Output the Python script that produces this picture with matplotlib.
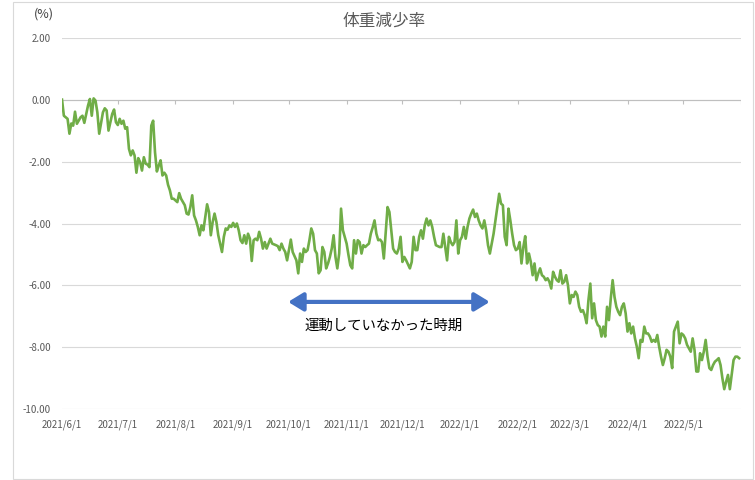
import numpy as np
import pandas as pd
import matplotlib
matplotlib.use("Agg")
import matplotlib.pyplot as plt
import matplotlib.patches as mpatches
import matplotlib.dates as mdates

plt.rcParams['font.family'] = ['Noto Sans CJK JP', 'DejaVu Sans']

# 日数 (2021/6/1 からの経過日) と体重減少率 (%)
start = pd.Timestamp("2021-06-01")
days = [
    0, 1, 3, 4, 5, 6, 7, 8, 10, 11, 12, 14, 15, 16, 17, 18, 19, 20, 22, 23,
    24, 25, 27, 28, 29, 30, 31, 32, 33, 34, 35, 36, 37, 38, 39, 40, 41, 42, 43, 44,
    45, 46, 47, 48, 49, 50, 51, 52, 53, 54, 55, 56, 57, 58, 59,
    60, 62, 63, 64, 66, 67, 68, 69, 70, 71, 72, 73, 74, 75, 76, 78, 79, 80, 81, 82,
    83, 84, 85, 86, 87, 88, 89, 90, 91, 92, 93, 94, 95, 96, 97, 98, 99, 100, 101, 102,
    103, 104, 105, 106, 107, 108, 109, 110, 111, 112, 113, 115, 116, 117, 118, 119, 120, 121, 122,
    123, 124, 126, 127, 128, 129, 130, 131, 132, 133, 134, 135, 136, 137, 138, 139, 140, 141, 142, 143,
    144, 145, 146, 147, 148, 149, 150, 151, 152, 153, 154, 155, 156, 157, 158, 159, 160, 161, 162, 163,
    164, 165, 166, 167, 168, 169, 170, 171, 172, 173, 175, 176, 177, 178, 179, 180, 181, 182, 183, 184,
    185, 187, 188, 189, 190, 191, 192, 193, 194, 195, 196, 197, 198, 199, 200, 201, 203, 204, 205, 206,
    207, 208, 209, 210, 211, 212, 213, 214, 215, 216, 217, 218, 219, 220, 221, 222, 223, 224, 225, 226,
    227, 228, 229, 230, 231, 232, 233, 234, 235, 236, 237, 238, 239, 240, 241, 242, 243, 244, 245, 246,
    247, 248, 249, 250, 251, 252, 253, 254, 255, 256, 257, 258, 259, 260, 261, 262, 263, 264, 265, 266,
    267, 268, 269, 270, 271, 272, 273, 274, 275, 276, 277, 278, 279, 280, 281, 282, 283, 284, 285, 286,
    287, 288, 289, 290, 291, 292, 293, 294, 295, 296, 297, 298, 299, 300, 301, 302, 303, 304, 305, 306,
    307, 308, 309, 310, 311, 312, 313, 314, 315, 316, 317, 318, 319, 320, 321, 322, 323, 324, 325, 326,
    327, 328, 329, 330, 331, 332, 333, 334, 335, 336, 338, 339, 340, 341, 342, 343, 344, 345, 346, 347,
    348, 349, 350, 351, 352, 353, 354, 355, 356, 357, 358, 359, 360, 361, 362, 363, 364,
]
rate = [
    0.0, -0.52, -0.62, -1.1, -0.77, -0.84, -0.39, -0.78, -0.57, -0.52, -0.75, -0.19, 0.02, -0.52, 0.04, -0.03, -0.41, -1.1, -0.41, -0.28,
    -0.35, -1.0, -0.46, -0.32, -0.73, -0.82, -0.62, -0.78, -0.68, -0.94, -0.89, -1.59, -1.8, -1.64, -1.8, -2.36, -1.89, -2.02, -2.29, -1.86,
    -2.07, -2.1, -2.18, -0.84, -0.68, -1.7, -2.32, -2.13, -1.96, -2.45, -2.36, -2.45, -2.75, -2.93, -3.2,
    -3.2, -3.31, -3.02, -3.2, -3.41, -3.68, -3.71, -3.47, -3.09, -3.74, -3.9, -4.11, -4.38, -4.06, -4.22, -3.38, -3.63, -4.38, -3.95, -3.68,
    -3.95, -4.38, -4.65, -4.92, -4.43, -4.16, -4.2, -4.06, -4.11, -3.98, -4.11, -4.0, -4.22, -4.54, -4.63, -4.38, -4.65, -4.33, -4.49, -5.21,
    -4.54, -4.49, -4.54, -4.27, -4.49, -4.81, -4.6, -4.81, -4.65, -4.49, -4.65, -4.7, -4.73, -4.86, -4.65, -4.81, -4.92, -5.19, -4.86,
    -4.52, -4.92, -5.19, -5.61, -4.97, -5.24, -4.81, -4.92, -4.86, -4.54, -4.16, -4.33, -4.86, -4.97, -5.61, -5.51, -4.76, -4.92, -5.45, -5.29,
    -5.08, -4.81, -4.38, -5.08, -5.45, -4.97, -3.52, -4.22, -4.43, -4.65, -5.02, -5.35, -5.45, -4.54, -4.97, -4.54, -4.6, -4.97, -4.7, -4.76,
    -4.7, -4.65, -4.33, -4.13, -3.9, -4.33, -4.54, -4.52, -4.6, -5.13, -3.47, -3.63, -4.22, -4.81, -4.92, -4.97, -4.81, -4.43, -5.24, -5.08,
    -5.19, -5.45, -5.24, -4.43, -4.86, -4.86, -4.43, -4.22, -4.49, -4.06, -3.84, -4.06, -3.9, -4.11, -4.43, -4.7, -4.76, -4.76, -4.33, -4.76,
    -5.19, -4.43, -4.6, -4.7, -4.6, -3.9, -4.97, -4.54, -4.43, -4.11, -4.49, -4.11, -3.84, -3.68, -3.55, -3.79, -3.68, -3.9, -4.06, -4.16,
    -3.9, -4.22, -4.7, -4.97, -4.65, -4.33, -3.9, -3.47, -3.04, -3.36, -3.41, -4.43, -4.7, -3.52, -3.9, -4.33, -4.7, -4.86, -4.81, -4.6,
    -5.29, -4.76, -4.41, -5.29, -4.97, -5.24, -5.67, -5.29, -5.83, -5.61, -5.45, -5.67, -5.72, -5.83, -5.77, -5.88, -6.1, -5.56, -5.72, -5.83,
    -5.88, -5.51, -5.94, -5.88, -5.67, -6.0, -6.58, -6.31, -6.37, -6.2, -6.31, -6.69, -6.85, -6.8, -6.96, -7.22, -6.47, -5.94, -7.06, -6.58,
    -7.12, -7.28, -7.33, -7.65, -7.33, -7.65, -6.69, -7.12, -6.42, -5.83, -6.37, -6.69, -6.85, -6.96, -6.69, -6.58, -6.9, -7.49, -7.22, -7.55,
    -7.33, -7.71, -7.98, -8.35, -7.76, -7.82, -7.33, -7.55, -7.55, -7.65, -7.82, -7.76, -7.82, -7.6, -7.98, -8.3, -8.57, -8.35, -8.08, -8.14,
    -8.3, -8.67, -7.49, -7.33, -7.17, -7.87, -7.55, -7.6, -7.71, -7.92, -8.14, -7.71, -8.08, -8.78, -8.78, -8.19, -8.41, -8.14, -7.76, -8.3,
    -8.67, -8.73, -8.57, -8.46, -8.41, -8.35, -8.57, -9.0, -9.35, -9.11, -8.89, -9.35, -8.89, -8.41, -8.3, -8.3, -8.35,
]
dates = start + pd.to_timedelta(days, unit="D")

month_ticks = pd.date_range("2021-06-01", "2022-06-01", freq="MS")
month_labels = [f"{d.year}/{d.month}/{d.day}" for d in month_ticks[:-1]] + [""]
y_ticks = [2, 0, -2, -4, -6, -8, -10]

title = "体重減少率"
note = "運動していなかった時期"

fig = plt.figure(figsize=(7.55, 4.8), dpi=100)
fig.patches.append(mpatches.Rectangle((12.5 / 755, 1.5 / 480), 740 / 755, 477 / 480,
                                      transform=fig.transFigure, fill=False,
                                      edgecolor="#d9d9d9", lw=0.8))
ax = fig.add_axes([62 / 755, 1 - 409.3 / 480, 679 / 755, 371.6 / 480])

ax.plot(dates, rate, color="#70ad47", lw=1.9, solid_joinstyle="round")

ax.set_ylim(-10, 2)
ax.set_yticks(y_ticks)
ax.set_yticklabels([f"{v:.2f}" for v in y_ticks])
ax.set_xlim(month_ticks[0], month_ticks[-1])
ax.set_xticks(month_ticks)
ax.set_xticklabels(month_labels)
ax.grid(axis="y", color="#d9d9d9", lw=0.8)
ax.set_axisbelow(True)
for s in ax.spines.values():
    s.set_visible(False)
ax.tick_params(axis="both", length=0, labelsize=7, colors="#595959")
ax.tick_params(axis="x", pad=7)
ax.tick_params(axis="y", pad=8)

# 横軸線 (0 の位置) と目盛
ax.axhline(0, color="#bfbfbf", lw=0.8, zorder=1)
ax.vlines(month_ticks, 0, -0.14, color="#bfbfbf", lw=0.8, zorder=1)

ax.set_title(title, fontsize=12, color="#595959", pad=9, x=0.475)
fig.text(34 / 755, 1 - 14 / 480, "(%)", fontsize=9, color="#404040", va="center")

arrow = mpatches.FancyArrowPatch((0.333, 0.289), (0.630, 0.289), transform=ax.transAxes,
                                 arrowstyle="<|-|>,head_length=0.9,head_width=0.55",
                                 mutation_scale=10, lw=3, color="#4472c4",
                                 shrinkA=0, shrinkB=0)
ax.add_patch(arrow)
ax.text(0.474, 0.224, note, transform=ax.transAxes, ha="center", va="center",
        fontsize=10.4, color="black")

fig.savefig("out.png", dpi=100)
